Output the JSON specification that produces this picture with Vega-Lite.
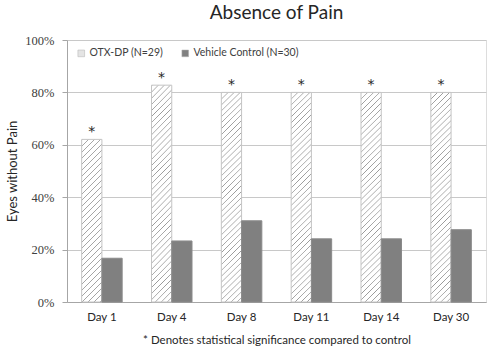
{
"$schema":"https://vega.github.io/schema/vega-lite/v6.json",
"width":419,"height":262,
"autosize":{"type":"none"},
"padding":{"left":67,"top":40,"right":2,"bottom":49},
"background":"#ffffff",
"title":{"text":"Absence of Pain","font":"Lato","fontSize":19,"fontWeight":"normal","color":"#262626","anchor":"middle","offset":11},
"data":{"values":[
{"day":"Day 1","series":"OTX-DP (N=29)","value":0.6207,"star":"*"},
{"day":"Day 4","series":"OTX-DP (N=29)","value":0.8276,"star":"*"},
{"day":"Day 8","series":"OTX-DP (N=29)","value":0.80,"star":"*"},
{"day":"Day 11","series":"OTX-DP (N=29)","value":0.80,"star":"*"},
{"day":"Day 14","series":"OTX-DP (N=29)","value":0.80,"star":"*"},
{"day":"Day 30","series":"OTX-DP (N=29)","value":0.80,"star":"*"},
{"day":"Day 1","series":"Vehicle Control (N=30)","value":0.167,"star":""},
{"day":"Day 4","series":"Vehicle Control (N=30)","value":0.233,"star":""},
{"day":"Day 8","series":"Vehicle Control (N=30)","value":0.31,"star":""},
{"day":"Day 11","series":"Vehicle Control (N=30)","value":0.241,"star":""},
{"day":"Day 14","series":"Vehicle Control (N=30)","value":0.241,"star":""},
{"day":"Day 30","series":"Vehicle Control (N=30)","value":0.276,"star":""}
]},
"encoding":{
"x":{"field":"day","type":"nominal","sort":["Day 1","Day 4","Day 8","Day 11","Day 14","Day 30"],
"scale":{"paddingInner":0.42,"paddingOuter":0.21},
"axis":{"title":"* Denotes statistical significance compared to control","titleFont":"Lato","titleFontSize":11.5,"titleFontWeight":"normal","titleColor":"#262626","titleX":209.5,"titleY":38,"titleBaseline":"middle","labelAngle":0,"labelFont":"Lato","labelFontSize":11.5,"labelColor":"#262626","labelPadding":9,"ticks":false,"domainColor":"#a6a6a6","grid":false}},
"xOffset":{"field":"series","type":"nominal","sort":["OTX-DP (N=29)","Vehicle Control (N=30)"]},
"y":{"field":"value","type":"quantitative","scale":{"domain":[0,1]},
"axis":{"title":"Eyes without Pain","titleFont":"Lato","titleFontSize":13,"titleFontWeight":"normal","titleColor":"#262626","titleX":-55,"titleY":131,"titleBaseline":"middle","titleAngle":270,"values":[0,0.2,0.4,0.6,0.8,1],"format":".0%","labelFont":"Liberation Serif, DejaVu Serif, serif","labelFontSize":12.5,"labelColor":"#404040","labelPadding":8,"tickSize":5,"tickColor":"#a6a6a6","domainColor":"#a6a6a6","gridColor":"#c8c8c8"}}
},
"layer":[
{"mark":{"type":"bar","strokeWidth":1},
"encoding":{
"stroke":{"condition":{"test":"datum.series==='OTX-DP (N=29)'","value":"#c4c4c4"},"value":"#8a8a8a"},
"fill":{"field":"series","type":"nominal",
"scale":{"domain":["OTX-DP (N=29)","Vehicle Control (N=30)"],"range":["#e4e4e4","#808080"]},
"legend":{"title":null,"orient":"none","legendX":9,"legendY":8,"direction":"horizontal","padding":0,"labelFont":"Lato","labelFontSize":10.5,"labelColor":"#404040","symbolType":"square","symbolSize":45,"symbolStrokeColor":"#b0b0b0","symbolStrokeWidth":0.5,"columnPadding":16,"labelOffset":3},
"condition":[
{"test":"datum.series==='OTX-DP (N=29)' && datum.day==='Day 1'","value":{"gradient":"linear","x1":0,"y1":0,"x2":0.1810,"y2":1.4535,"stops":[
{"offset":0,"color":"#fff"},{"offset":0.0035,"color":"#999"},{"offset":0.007,"color":"#fff"},
{"offset":0.025,"color":"#fff"},{"offset":0.0285,"color":"#999"},{"offset":0.032,"color":"#fff"},
{"offset":0.05,"color":"#fff"},{"offset":0.0535,"color":"#999"},{"offset":0.057,"color":"#fff"},
{"offset":0.075,"color":"#fff"},{"offset":0.0785,"color":"#999"},{"offset":0.082,"color":"#fff"},
{"offset":0.1,"color":"#fff"},{"offset":0.1035,"color":"#999"},{"offset":0.107,"color":"#fff"},
{"offset":0.125,"color":"#fff"},{"offset":0.1285,"color":"#999"},{"offset":0.132,"color":"#fff"},
{"offset":0.15,"color":"#fff"},{"offset":0.1535,"color":"#999"},{"offset":0.157,"color":"#fff"},
{"offset":0.175,"color":"#fff"},{"offset":0.1785,"color":"#999"},{"offset":0.182,"color":"#fff"},
{"offset":0.2,"color":"#fff"},{"offset":0.2035,"color":"#999"},{"offset":0.207,"color":"#fff"},
{"offset":0.225,"color":"#fff"},{"offset":0.2285,"color":"#999"},{"offset":0.232,"color":"#fff"},
{"offset":0.25,"color":"#fff"},{"offset":0.2535,"color":"#999"},{"offset":0.257,"color":"#fff"},
{"offset":0.275,"color":"#fff"},{"offset":0.2785,"color":"#999"},{"offset":0.282,"color":"#fff"},
{"offset":0.3,"color":"#fff"},{"offset":0.3035,"color":"#999"},{"offset":0.307,"color":"#fff"},
{"offset":0.325,"color":"#fff"},{"offset":0.3285,"color":"#999"},{"offset":0.332,"color":"#fff"},
{"offset":0.35,"color":"#fff"},{"offset":0.3535,"color":"#999"},{"offset":0.357,"color":"#fff"},
{"offset":0.375,"color":"#fff"},{"offset":0.3785,"color":"#999"},{"offset":0.382,"color":"#fff"},
{"offset":0.4,"color":"#fff"},{"offset":0.4035,"color":"#999"},{"offset":0.407,"color":"#fff"},
{"offset":0.425,"color":"#fff"},{"offset":0.4285,"color":"#999"},{"offset":0.432,"color":"#fff"},
{"offset":0.45,"color":"#fff"},{"offset":0.4535,"color":"#999"},{"offset":0.457,"color":"#fff"},
{"offset":0.475,"color":"#fff"},{"offset":0.4785,"color":"#999"},{"offset":0.482,"color":"#fff"},
{"offset":0.5,"color":"#fff"},{"offset":0.5035,"color":"#999"},{"offset":0.507,"color":"#fff"},
{"offset":0.525,"color":"#fff"},{"offset":0.5285,"color":"#999"},{"offset":0.532,"color":"#fff"},
{"offset":0.55,"color":"#fff"},{"offset":0.5535,"color":"#999"},{"offset":0.557,"color":"#fff"},
{"offset":0.575,"color":"#fff"},{"offset":0.5785,"color":"#999"},{"offset":0.582,"color":"#fff"},
{"offset":0.6,"color":"#fff"},{"offset":0.6035,"color":"#999"},{"offset":0.607,"color":"#fff"},
{"offset":0.625,"color":"#fff"},{"offset":0.6285,"color":"#999"},{"offset":0.632,"color":"#fff"},
{"offset":0.65,"color":"#fff"},{"offset":0.6535,"color":"#999"},{"offset":0.657,"color":"#fff"},
{"offset":0.675,"color":"#fff"},{"offset":0.6785,"color":"#999"},{"offset":0.682,"color":"#fff"},
{"offset":0.7,"color":"#fff"},{"offset":0.7035,"color":"#999"},{"offset":0.707,"color":"#fff"},
{"offset":0.725,"color":"#fff"},{"offset":0.7285,"color":"#999"},{"offset":0.732,"color":"#fff"},
{"offset":0.75,"color":"#fff"},{"offset":0.7535,"color":"#999"},{"offset":0.757,"color":"#fff"},
{"offset":0.775,"color":"#fff"},{"offset":0.7785,"color":"#999"},{"offset":0.782,"color":"#fff"},
{"offset":1,"color":"#fff"}]}},
{"test":"datum.series==='OTX-DP (N=29)'","value":{"gradient":"linear","x1":0,"y1":0,"x2":0.10616,"y2":1.1167,"stops":[
{"offset":0,"color":"#fff"},{"offset":0.0035,"color":"#999"},{"offset":0.007,"color":"#fff"},
{"offset":0.025,"color":"#fff"},{"offset":0.0285,"color":"#999"},{"offset":0.032,"color":"#fff"},
{"offset":0.05,"color":"#fff"},{"offset":0.0535,"color":"#999"},{"offset":0.057,"color":"#fff"},
{"offset":0.075,"color":"#fff"},{"offset":0.0785,"color":"#999"},{"offset":0.082,"color":"#fff"},
{"offset":0.1,"color":"#fff"},{"offset":0.1035,"color":"#999"},{"offset":0.107,"color":"#fff"},
{"offset":0.125,"color":"#fff"},{"offset":0.1285,"color":"#999"},{"offset":0.132,"color":"#fff"},
{"offset":0.15,"color":"#fff"},{"offset":0.1535,"color":"#999"},{"offset":0.157,"color":"#fff"},
{"offset":0.175,"color":"#fff"},{"offset":0.1785,"color":"#999"},{"offset":0.182,"color":"#fff"},
{"offset":0.2,"color":"#fff"},{"offset":0.2035,"color":"#999"},{"offset":0.207,"color":"#fff"},
{"offset":0.225,"color":"#fff"},{"offset":0.2285,"color":"#999"},{"offset":0.232,"color":"#fff"},
{"offset":0.25,"color":"#fff"},{"offset":0.2535,"color":"#999"},{"offset":0.257,"color":"#fff"},
{"offset":0.275,"color":"#fff"},{"offset":0.2785,"color":"#999"},{"offset":0.282,"color":"#fff"},
{"offset":0.3,"color":"#fff"},{"offset":0.3035,"color":"#999"},{"offset":0.307,"color":"#fff"},
{"offset":0.325,"color":"#fff"},{"offset":0.3285,"color":"#999"},{"offset":0.332,"color":"#fff"},
{"offset":0.35,"color":"#fff"},{"offset":0.3535,"color":"#999"},{"offset":0.357,"color":"#fff"},
{"offset":0.375,"color":"#fff"},{"offset":0.3785,"color":"#999"},{"offset":0.382,"color":"#fff"},
{"offset":0.4,"color":"#fff"},{"offset":0.4035,"color":"#999"},{"offset":0.407,"color":"#fff"},
{"offset":0.425,"color":"#fff"},{"offset":0.4285,"color":"#999"},{"offset":0.432,"color":"#fff"},
{"offset":0.45,"color":"#fff"},{"offset":0.4535,"color":"#999"},{"offset":0.457,"color":"#fff"},
{"offset":0.475,"color":"#fff"},{"offset":0.4785,"color":"#999"},{"offset":0.482,"color":"#fff"},
{"offset":0.5,"color":"#fff"},{"offset":0.5035,"color":"#999"},{"offset":0.507,"color":"#fff"},
{"offset":0.525,"color":"#fff"},{"offset":0.5285,"color":"#999"},{"offset":0.532,"color":"#fff"},
{"offset":0.55,"color":"#fff"},{"offset":0.5535,"color":"#999"},{"offset":0.557,"color":"#fff"},
{"offset":0.575,"color":"#fff"},{"offset":0.5785,"color":"#999"},{"offset":0.582,"color":"#fff"},
{"offset":0.6,"color":"#fff"},{"offset":0.6035,"color":"#999"},{"offset":0.607,"color":"#fff"},
{"offset":0.625,"color":"#fff"},{"offset":0.6285,"color":"#999"},{"offset":0.632,"color":"#fff"},
{"offset":0.65,"color":"#fff"},{"offset":0.6535,"color":"#999"},{"offset":0.657,"color":"#fff"},
{"offset":0.675,"color":"#fff"},{"offset":0.6785,"color":"#999"},{"offset":0.682,"color":"#fff"},
{"offset":0.7,"color":"#fff"},{"offset":0.7035,"color":"#999"},{"offset":0.707,"color":"#fff"},
{"offset":0.725,"color":"#fff"},{"offset":0.7285,"color":"#999"},{"offset":0.732,"color":"#fff"},
{"offset":0.75,"color":"#fff"},{"offset":0.7535,"color":"#999"},{"offset":0.757,"color":"#fff"},
{"offset":0.775,"color":"#fff"},{"offset":0.7785,"color":"#999"},{"offset":0.782,"color":"#fff"},
{"offset":0.8,"color":"#fff"},{"offset":0.8035,"color":"#999"},{"offset":0.807,"color":"#fff"},
{"offset":0.825,"color":"#fff"},{"offset":0.8285,"color":"#999"},{"offset":0.832,"color":"#fff"},
{"offset":0.85,"color":"#fff"},{"offset":0.8535,"color":"#999"},{"offset":0.857,"color":"#fff"},
{"offset":0.875,"color":"#fff"},{"offset":0.8785,"color":"#999"},{"offset":0.882,"color":"#fff"},
{"offset":0.9,"color":"#fff"},{"offset":0.9035,"color":"#999"},{"offset":0.907,"color":"#fff"},
{"offset":0.925,"color":"#fff"},{"offset":0.9285,"color":"#999"},{"offset":0.932,"color":"#fff"},
{"offset":0.95,"color":"#fff"},{"offset":0.9535,"color":"#999"},{"offset":0.957,"color":"#fff"},
{"offset":0.975,"color":"#fff"},{"offset":0.9785,"color":"#999"},{"offset":0.982,"color":"#fff"},
{"offset":1,"color":"#fff"}]}}
]}
}},
{"transform":[{"filter":"datum.star !== ''"}],
"mark":{"type":"text","baseline":"middle","dy":-7,"font":"DejaVu Sans","fontSize":14,"color":"#262626"},
"encoding":{"text":{"field":"star"}}}
]
}
